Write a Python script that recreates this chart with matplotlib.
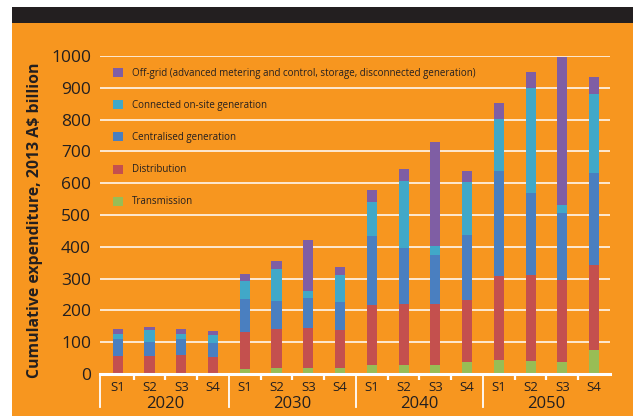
import matplotlib
matplotlib.use("Agg")
import matplotlib.pyplot as plt
import matplotlib.transforms as mtransforms
from matplotlib.patches import Rectangle, Patch
import numpy as np

plt.rcParams["font.family"] = ["Open Sans", "DejaVu Sans"]

# ---- data (2013 A$ billion, cumulative expenditure) ----
years = ["2020", "2030", "2040", "2050"]
scenarios = ["S1", "S2", "S3", "S4"]

transmission = [0, 0, 0, 0, 15, 19, 19, 19, 29, 29, 29, 39, 45, 42, 39, 74]
distribution = [57, 57, 59, 53, 118, 121, 126, 120, 187, 191, 191, 194, 264, 269, 258, 268]
centralised = [53, 44, 51, 45, 103, 90, 95, 88, 218, 177, 154, 204, 330, 259, 210, 291]
connected = [16, 38, 16, 25, 57, 101, 22, 85, 107, 211, 28, 168, 164, 330, 25, 248]
offgrid = [14, 9, 14, 13, 22, 25, 158, 25, 38, 38, 326, 34, 50, 51, 466, 54]

series = [
    ("Transmission", transmission, "#98bd55"),
    ("Distribution", distribution, "#c4504e"),
    ("Centralised generation", centralised, "#4a7fc0"),
    ("Connected on-site generation", connected, "#41a8c8"),
    ("Off-grid (advanced metering and control, storage, disconnected generation)", offgrid, "#7f5ea4"),
]

orange = "#f7961f"
dark = "#231f20"

fig = plt.figure(figsize=(6.33, 4.16), dpi=100, facecolor="white")
# page background: orange panel with black band on top
fig.patches.append(Rectangle((12 / 633, 0), 1, 1 - 23 / 416, transform=fig.transFigure,
                             facecolor=orange, edgecolor="none", zorder=-10))
fig.patches.append(Rectangle((12 / 633, 1 - 23 / 416), 1, 16 / 416, transform=fig.transFigure,
                             facecolor=dark, edgecolor="none", zorder=-10))

ax = fig.add_axes([100 / 633, 1 - 374 / 416, 510 / 633, 318 / 416])
ax.set_facecolor("none")

n = len(years) * len(scenarios)
x = np.arange(n)
bottom = np.zeros(n)
for name, vals, col in series:
    ax.bar(x, vals, width=0.32, bottom=bottom, color=col, label=name, zorder=3)
    bottom += np.array(vals)

ax.set_xlim(-0.56, n - 0.5)
ax.set_ylim(0, 1000)
ax.set_yticks(range(0, 1001, 100))
for v in range(100, 1001, 100):
    ax.axhline(v, color="white", lw=1.3, alpha=0.85, zorder=1)
ax.axhline(0, color="white", lw=2.2, zorder=4, clip_on=False)

for s in ax.spines.values():
    s.set_visible(False)

ax.tick_params(axis="y", length=0, pad=6.5, labelsize=12.5, labelcolor=dark)
ax.set_xticks(x)
ax.set_xticklabels(scenarios * len(years))
ax.tick_params(axis="x", which="major", length=0, pad=5, labelsize=9.5, labelcolor=dark)
minor = [i + 0.5 for i in range(n - 1) if (i + 1) % 4 != 0]
ax.set_xticks(minor, minor=True)
ax.tick_params(axis="x", which="minor", length=4, width=1.6, color="white", direction="out")

trans = mtransforms.blended_transform_factory(ax.transData, ax.transAxes)
for sep in [-0.56, 3.5, 7.5, 11.5]:
    ax.plot([sep, sep], [0, -0.105], transform=trans, color="white", lw=1.3, clip_on=False)
for g, yr in enumerate(years):
    ax.text(g * 4 + 1.5, -0.095, yr, transform=trans, ha="center", va="center",
            fontsize=12, color=dark)

ax.set_ylabel("Cumulative expenditure, 2013 A$ billion", fontsize=11.4, fontweight="bold",
              color=dark, va="center")
ax.yaxis.set_label_coords(-0.127, 0.484)

handles = [Patch(facecolor=c, edgecolor="none") for _, _, c in series][::-1]
labels = [nm for nm, _, _ in series][::-1]
ax.legend(handles, labels, loc="upper left", bbox_to_anchor=(0.025, 0.962), frameon=False,
          fontsize=7, labelspacing=2.17, handlelength=1.05, handleheight=1.05,
          handletextpad=0.95, borderpad=0, borderaxespad=0, labelcolor=dark)

fig.savefig("out.png", dpi=100, facecolor=fig.get_facecolor())
